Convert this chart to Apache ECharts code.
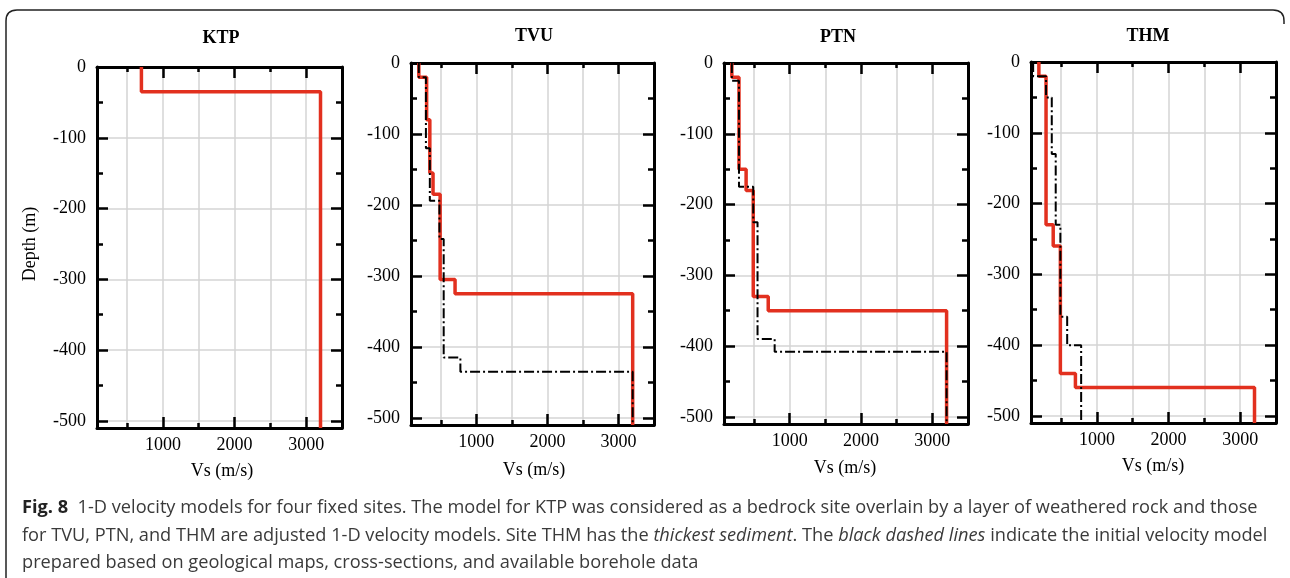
<!DOCTYPE html>
<html>
<head>
<meta charset="utf-8">
<script src="https://cdn.jsdelivr.net/npm/echarts@6/dist/echarts.min.js"></script>
<style>
  html, body { margin: 0; padding: 0; background: #fff; }
  #chart { position: absolute; left: 0; top: 0; width: 1290px; height: 578px; }
  #frame { position: absolute; left: 0; top: 0; }
  #caption {
    position: absolute; left: 22px; top: 493px;
    font-family: 'Open Sans', 'Noto Sans', sans-serif; font-size: 18.2px;
    line-height: 27.5px; color: #3a3a3a; white-space: nowrap;
  }
  #caption b { color: #222; }
</style>
</head>
<body>
<div id="chart"></div>
<svg id="frame" width="1290" height="578">
  <path d="M6 578 L6 21 Q6 10 17 10 L1273 10 Q1284 10 1284 21 L1284 24" fill="none" stroke="#222" stroke-width="1.5"/>
</svg>
<div id="caption">
  <div><b>Fig. 8</b>&nbsp; 1-D velocity models for four fixed sites. The model for KTP was considered as a bedrock site overlain by a layer of weathered rock and those</div>
  <div>for TVU, PTN, and THM are adjusted 1-D velocity models. Site THM has the <i>thickest sediment</i>. The <i>black dashed lines</i> indicate the initial velocity model</div>
  <div>prepared based on geological maps, cross-sections, and available borehole data</div>
</div>
<script>
// site names
const sites = ['KTP', 'TVU', 'PTN', 'THM']

// adjusted models (red): layer Vs (m/s) and layer bottom depth (m)
const ktpVs = [700, 3200]
const ktpBottom = [-35, -510]
const tvuVs = [190, 300, 345, 390, 490, 700, 3200]
const tvuBottom = [-20, -80, -155, -185, -305, -325, -510]
const ptnVs = [190, 290, 390, 490, 700, 3200]
const ptnBottom = [-20, -150, -180, -330, -350, -510]
const thmVs = [190, 290, 390, 490, 700, 3200]
const thmBottom = [-20, -230, -260, -440, -460, -510]

// initial models (black dash-dot)
const tvuInitVs = [190, 290, 345, 480, 540, 775, 3200]
const tvuInitBottom = [-20, -120, -194, -248, -415, -435, -510]
const ptnInitVs = [190, 290, 490, 550, 790, 3200]
const ptnInitBottom = [-25, -175, -225, -390, -408, -510]
const thmInitVs = [110, 290, 370, 425, 490, 585, 780]
const thmInitBottom = [-20, -50, -130, -230, -360, -400, -510]

// tick labels
const xTickLabels = [1000, 2000, 3000]
const yTickLabels = [0, -100, -200, -300, -400, -500]

const adjusted = [[ktpVs, ktpBottom], [tvuVs, tvuBottom], [ptnVs, ptnBottom], [thmVs, thmBottom]]
const initial = [null, [tvuInitVs, tvuInitBottom], [ptnInitVs, ptnInitBottom], [thmInitVs, thmInitBottom]]

// layer list -> step line points
const toSteps = (vs, bottom) => {
  const pts = []
  let top = 0
  vs.forEach((v, i) => {
    pts.push([v, top], [v, bottom[i]])
    top = bottom[i]
  })
  return pts
}

const grids = [
  { left: 97, top: 67, width: 245, height: 361 },
  { left: 411, top: 63, width: 243, height: 362 },
  { left: 724, top: 63, width: 244, height: 361 },
  { left: 1031, top: 62, width: 245, height: 361 }
]
const titlePos = [[221, 38], [534, 36], [838, 37], [1148, 36]]
const xNamePos = [[222, 471], [534, 470], [845, 468], [1153, 466]]

const serif = 'Liberation Serif'
const black = '#000'
const gridGray = '#d4d4d4'
const red = '#e2301f'

const xAxes = []
const yAxes = []
const series = []
const graphics = []

grids.forEach((g, i) => {
  const baseX = {
    type: 'value', gridIndex: i, min: 80, max: 3500,
    minInterval: 1000, maxInterval: 1000,
    axisLine: { show: true, onZero: false, lineStyle: { color: black, width: 3 } },
    axisTick: { show: true, inside: true, length: 11, lineStyle: { color: black, width: 2.5 } },
    minorTick: { show: true, splitNumber: 2, length: 5, lineStyle: { color: black, width: 2.5 } }
  }
  xAxes.push(Object.assign({}, baseX, {
    position: 'bottom',
    axisLabel: {
      show: true, margin: 8, showMinLabel: false, showMaxLabel: false,
      fontFamily: serif, fontSize: 18, color: black,
      formatter: v => (xTickLabels.includes(v) ? String(v) : '')
    },
    splitLine: { show: true, lineStyle: { color: gridGray, width: 1.5 } },
    minorSplitLine: { show: true, lineStyle: { color: gridGray, width: 1.5 } }
  }))
  xAxes.push(Object.assign({}, baseX, {
    position: 'top',
    axisLabel: { show: false },
    splitLine: { show: false }
  }))

  const baseY = {
    type: 'value', gridIndex: i, min: -510, max: 0,
    minInterval: 100, maxInterval: 100,
    axisLine: { show: true, onZero: false, lineStyle: { color: black, width: 3 } },
    axisTick: { show: true, inside: true, length: 11, lineStyle: { color: black, width: 2.5 } },
    minorTick: { show: true, splitNumber: 2, length: 6, lineStyle: { color: black, width: 2.5 } }
  }
  yAxes.push(Object.assign({}, baseY, {
    position: 'left',
    axisLabel: {
      show: true, margin: 11, showMinLabel: false,
      fontFamily: serif, fontSize: 18, color: black,
      formatter: v => (yTickLabels.includes(v) ? String(v) : '')
    },
    splitLine: { show: true, lineStyle: { color: gridGray, width: 1.5 } }
  }))
  yAxes.push(Object.assign({}, baseY, {
    position: 'right',
    axisLabel: { show: false },
    splitLine: { show: false }
  }))

  const [vs, bottom] = adjusted[i]
  series.push({
    type: 'line', name: sites[i] + ' adjusted',
    xAxisIndex: 2 * i, yAxisIndex: 2 * i,
    data: toSteps(vs, bottom),
    symbol: 'none', silent: true, z: 3,
    lineStyle: { color: red, width: 3.5 }
  })
  if (initial[i]) {
    const [ivs, ib] = initial[i]
    series.push({
      type: 'line', name: sites[i] + ' initial',
      xAxisIndex: 2 * i, yAxisIndex: 2 * i,
      data: toSteps(ivs, ib),
      symbol: 'none', silent: true, z: 4,
      lineStyle: { color: black, width: 2, type: [10, 3, 2, 3] }
    })
  }

  graphics.push({
    type: 'text', x: titlePos[i][0], y: titlePos[i][1],
    style: { text: sites[i], font: 'bold 18px "Liberation Serif"', fill: black, align: 'center', verticalAlign: 'middle' }
  })
  graphics.push({
    type: 'text', x: xNamePos[i][0], y: xNamePos[i][1],
    style: { text: 'Vs (m/s)', font: '18px "Liberation Serif"', fill: black, align: 'center', verticalAlign: 'middle' }
  })
})

graphics.push({
  type: 'text', x: 30, y: 244, rotation: Math.PI / 2,
  style: { text: 'Depth (m)', font: '18px "Liberation Serif"', fill: black, align: 'center', verticalAlign: 'middle' }
})

const chart = echarts.init(document.getElementById('chart'))
chart.setOption({
  animation: false,
  grid: grids,
  xAxis: xAxes,
  yAxis: yAxes,
  series: series,
  graphic: graphics
})
window.addEventListener('resize', () => chart.resize())
</script>
</body>
</html>
